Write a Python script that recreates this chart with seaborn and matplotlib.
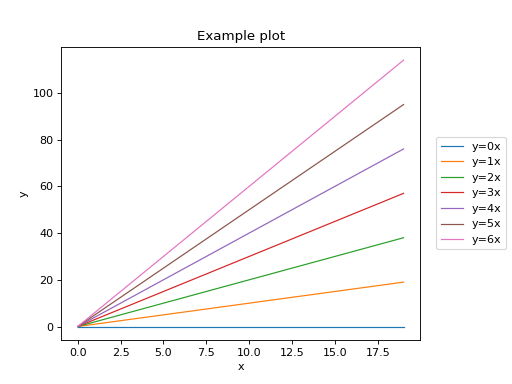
import pandas as pd
import matplotlib
matplotlib.use('Agg')
import matplotlib.pyplot as plt
import seaborn as sns

# endpoints of each straight line
x_vals = [0, 19]
labels = ['y=0x', 'y=1x', 'y=2x', 'y=3x', 'y=4x', 'y=5x', 'y=6x']
y_0x = [0, 0]
y_1x = [0, 19]
y_2x = [0, 38]
y_3x = [0, 57]
y_4x = [0, 76]
y_5x = [0, 95]
y_6x = [0, 114]

series = [y_0x, y_1x, y_2x, y_3x, y_4x, y_5x, y_6x]
rows = []
for lab, ys in zip(labels, series):
    for x, y in zip(x_vals, ys):
        rows.append({'x': x, 'y': y, 'series': lab})
df = pd.DataFrame(rows)

fig, ax = plt.subplots(figsize=(6.4, 4.8), dpi=80)
fig.subplots_adjust(left=0.12, right=0.82, top=0.878, bottom=0.115)

sns.lineplot(data=df, x='x', y='y', hue='series', hue_order=labels,
             palette=sns.color_palette('tab10', len(labels)), linewidth=1.1, ax=ax)

ax.set_xticks([0, 2.5, 5, 7.5, 10, 12.5, 15, 17.5])
ax.set_title('Example plot')
ax.set_xlabel('x')
ax.set_ylabel('y')
ax.legend(loc='center left', bbox_to_anchor=(1.03, 0.5))

fig.savefig('out.png', dpi=80)
